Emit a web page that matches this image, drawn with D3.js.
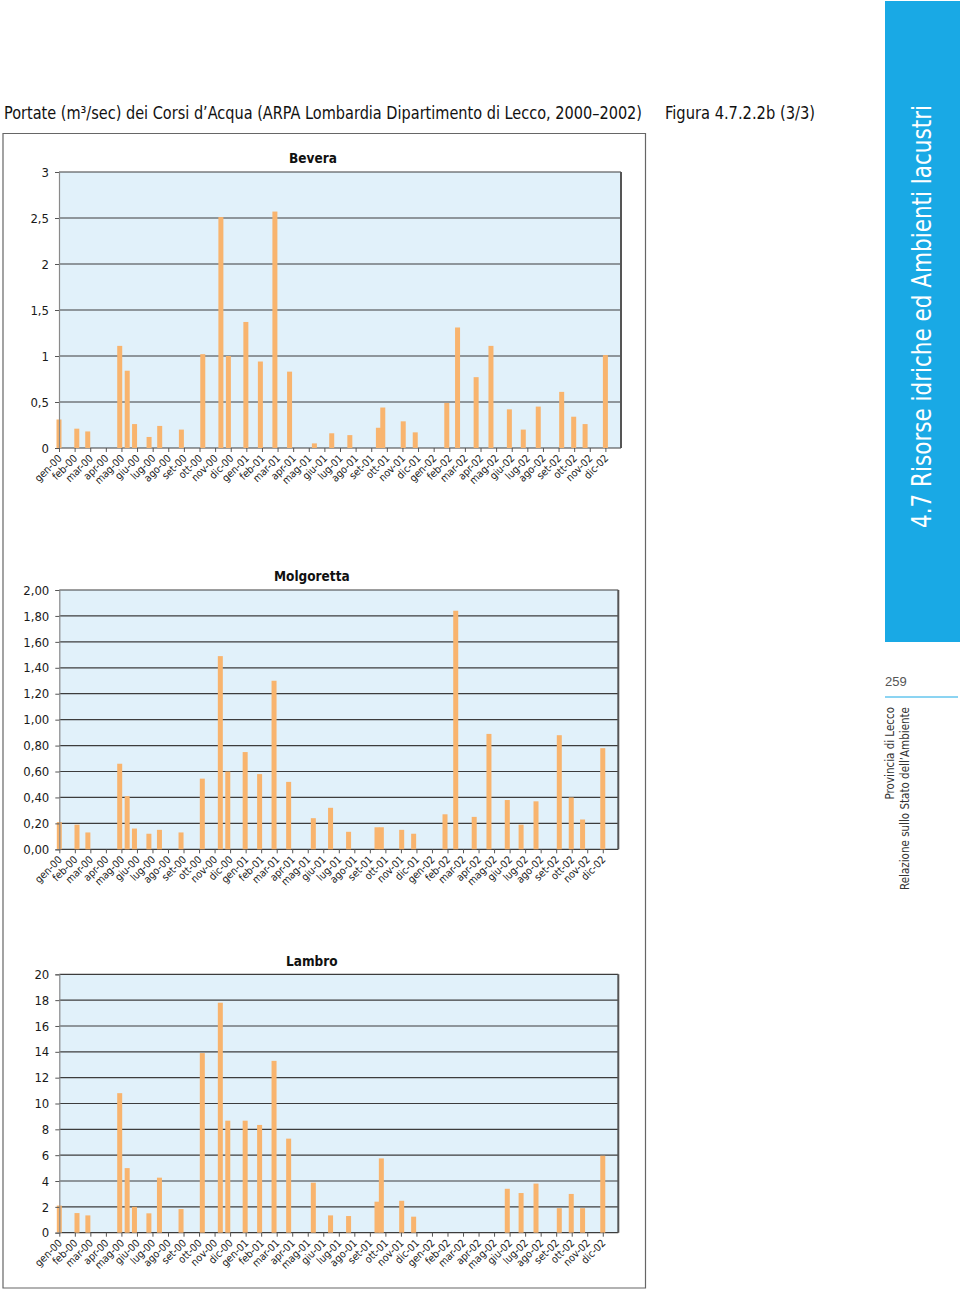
<!DOCTYPE html>
<html>
<head>
<meta charset="utf-8">
<script src="https://cdn.jsdelivr.net/npm/d3@7"></script>
<style>
  html, body { margin: 0; padding: 0; background: #fff; }
  svg { display: block; }
  text { font-family: "Liberation Sans Narrow", "DejaVu Sans Condensed", "Liberation Sans", sans-serif; }
</style>
</head>
<body>
<svg id="page" width="960" height="1290"></svg>
<script>
// ---------- DATA ----------
const tickLabels = [
  "gen-00","feb-00","mar-00","apr-00","mag-00","giu-00","lug-00","ago-00","set-00","ott-00","nov-00","dic-00",
  "gen-01","feb-01","mar-01","apr-01","mag-01","giu-01","lug-01","ago-01","set-01","ott-01","nov-01","dic-01",
  "gen-02","feb-02","mar-02","apr-02","mag-02","giu-02","lug-02","ago-02","set-02","ott-02","nov-02","dic-02"
];
const samplePos = [0, 1.14, 1.84, 3.89, 4.37, 4.84, 5.77, 6.45, 7.84, 9.21, 10.37, 10.85, 11.97, 12.9, 13.83, 14.77,
  16.36, 17.47, 18.63, 20.46, 20.74, 22.05, 22.82, 24.84, 25.53, 26.72, 27.67, 28.85, 29.74, 30.7, 32.2, 32.97, 33.7, 35.0];
const bevera = [0.31, 0.21, 0.18, 1.11, 0.84, 0.26, 0.12, 0.24, 0.20, 1.02, 2.51, 1.00, 1.37, 0.94, 2.57, 0.83,
  0.05, 0.16, 0.14, 0.22, 0.44, 0.29, 0.17, 0.49, 1.31, 0.77, 1.11, 0.42, 0.20, 0.45, 0.61, 0.34, 0.26, 1.01];
const molgoretta = [0.21, 0.19, 0.13, 0.66, 0.41, 0.16, 0.12, 0.15, 0.13, 0.545, 1.49, 0.60, 0.75, 0.58, 1.30, 0.52,
  0.24, 0.32, 0.135, 0.17, 0.17, 0.15, 0.12, 0.27, 1.84, 0.25, 0.89, 0.38, 0.19, 0.37, 0.88, 0.40, 0.23, 0.78];
const lambro = [2.1, 1.52, 1.34, 10.8, 5.0, 2.0, 1.5, 4.26, 1.83, 13.9, 17.8, 8.67, 8.67, 8.34, 13.3, 7.28,
  3.87, 1.34, 1.29, 2.4, 5.75, 2.47, 1.24, null, null, null, null, 3.4, 3.07, 3.8, 1.9, 3.0, 1.9, 5.96];
const beveraTicks = [0, 0.5, 1, 1.5, 2, 2.5, 3];
const molgorettaTicks = [0, 0.2, 0.4, 0.6, 0.8, 1.0, 1.2, 1.4, 1.6, 1.8, 2.0];
const lambroTicks = [0, 2, 4, 6, 8, 10, 12, 14, 16, 18, 20];

const pageTitle = "Portate (m³/sec) dei Corsi d’Acqua (ARPA Lombardia Dipartimento di Lecco, 2000–2002)";
const figLabel = "Figura 4.7.2.2b (3/3)";
const sideTitle = "4.7 Risorse idriche ed Ambienti lacustri";

// ---------- LAYOUT ----------
const charts = [
  { name: "Bevera", values: bevera, ticks: beveraTicks, fmt: v => d3.format(".1~f")(v).replace(".", ","),
    left: 59, right: 621, top: 172, bottom: 448, titleY: 163 },
  { name: "Molgoretta", values: molgoretta, ticks: molgorettaTicks, fmt: v => d3.format(".2f")(v).replace(".", ","),
    left: 59.3, right: 618.3, top: 590, bottom: 849.3, titleY: 581 },
  { name: "Lambro", values: lambro, ticks: lambroTicks, fmt: v => d3.format("d")(v),
    left: 59.3, right: 618.3, top: 974.3, bottom: 1232.7, titleY: 966 }
];

const svg = d3.select("#page");
svg.append("rect").attr("width", 960).attr("height", 1290).attr("fill", "#fff");

// header
svg.append("text").attr("x", 4).attr("y", 119).attr("font-size", 17).attr("fill", "#111")
  .attr("textLength", 638).attr("lengthAdjust", "spacingAndGlyphs").text(pageTitle);
svg.append("text").attr("x", 665).attr("y", 119).attr("font-size", 17).attr("fill", "#111")
  .attr("textLength", 150).attr("lengthAdjust", "spacingAndGlyphs").text(figLabel);

// outer frame
svg.append("path")
  .attr("d", "M3,133.5 H645.5 V1288 H3 Z")
  .attr("fill", "none").attr("stroke", "#666").attr("stroke-width", 1.2);

charts.forEach(c => {
  const g = svg.append("g");
  const x = d3.scaleLinear().domain([0, 36]).range([c.left, c.right]);
  const y = d3.scaleLinear().domain([0, d3.max(c.ticks)]).range([c.bottom, c.top]);

  g.append("rect").attr("x", c.left).attr("y", c.top)
    .attr("width", c.right - c.left).attr("height", c.bottom - c.top).attr("fill", "#e1f1fa");

  // gridlines
  g.append("g").selectAll("line").data(c.ticks).join("line")
    .attr("x1", c.left).attr("x2", c.right)
    .attr("y1", d => y(d)).attr("y2", d => y(d))
    .attr("stroke", "#3c3c3c").attr("stroke-width", 1.2);

  // bars
  const data = samplePos.map((p, i) => ({ p, v: c.values[i] })).filter(d => d.v != null);
  g.append("g").selectAll("rect").data(data).join("rect")
    .attr("x", d => x(d.p) - 2.5).attr("width", 5)
    .attr("y", d => y(d.v)).attr("height", d => y(0) - y(d.v))
    .attr("fill", "#f8b46e");

  // right border
  g.append("line").attr("x1", c.right).attr("x2", c.right).attr("y1", c.top).attr("y2", c.bottom)
    .attr("stroke", "#555").attr("stroke-width", 2);

  // y axis
  const yAxis = d3.axisLeft(y).tickValues(c.ticks).tickSize(4).tickPadding(6).tickFormat(c.fmt);
  const ya = g.append("g").attr("transform", `translate(${c.left},0)`).call(yAxis);
  ya.select(".domain").attr("stroke", "#8a8a8a").attr("stroke-width", 1.2);
  ya.selectAll(".tick line").attr("stroke", "#555");
  ya.selectAll(".tick text").attr("font-size", 13).attr("fill", "#1a1a1a")
    .style("font-family", "'Liberation Sans Narrow','DejaVu Sans Condensed',sans-serif");

  // x axis
  const xAxis = d3.axisBottom(x).tickValues(d3.range(tickLabels.length)).tickSize(4)
    .tickFormat(i => tickLabels[i]);
  const xa = g.append("g").attr("transform", `translate(0,${c.bottom})`).call(xAxis);
  xa.select(".domain").remove();
  xa.selectAll(".tick line").attr("stroke", "#555");
  xa.selectAll(".tick text")
    .attr("font-size", 10.5).attr("fill", "#222")
    .style("font-family", "'Liberation Sans Narrow','DejaVu Sans Condensed',sans-serif")
    .attr("text-anchor", "end")
    .attr("dy", null).attr("y", null)
    .attr("transform", "translate(3,11) rotate(-45)");

  // title
  g.append("text").attr("x", (c.left + c.right) / 2 - 27).attr("y", c.titleY)
    .attr("text-anchor", "middle").attr("font-size", 13.5).attr("font-weight", "bold").attr("fill", "#111")
    .text(c.name);
});

// side band
svg.append("rect").attr("x", 885).attr("y", 1).attr("width", 75).attr("height", 641).attr("fill", "#19a9e5");
svg.append("text").attr("transform", "translate(931,528) rotate(-90)")
  .attr("font-size", 27).attr("fill", "#fff")
  .attr("textLength", 423).attr("lengthAdjust", "spacingAndGlyphs").text(sideTitle);
svg.append("text").attr("x", 885).attr("y", 686).attr("font-size", 13).attr("fill", "#555")
  .style("font-family", "'Liberation Sans', sans-serif").text("259");
svg.append("line").attr("x1", 885).attr("x2", 958).attr("y1", 697).attr("y2", 697)
  .attr("stroke", "#19a9e5").attr("stroke-width", 1);
svg.append("text").attr("transform", "translate(894,707) rotate(-90)").attr("text-anchor", "end")
  .attr("font-size", 11.5).attr("fill", "#333").text("Provincia di Lecco");
svg.append("text").attr("transform", "translate(909,707) rotate(-90)").attr("text-anchor", "end")
  .attr("font-size", 11.5).attr("fill", "#333").text("Relazione sullo Stato dell’Ambiente");
</script>
</body>
</html>
